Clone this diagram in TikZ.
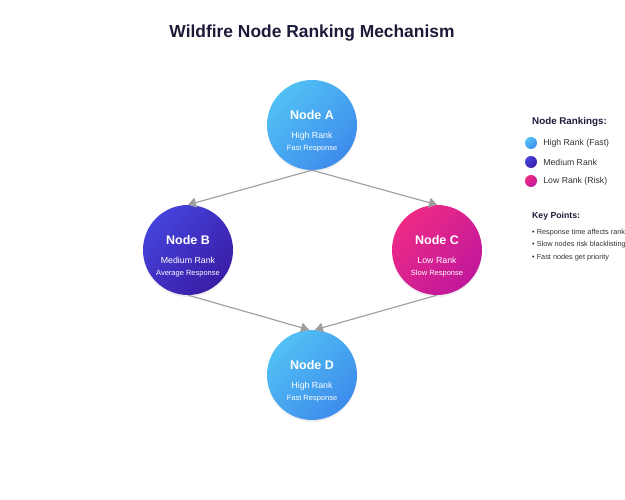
\documentclass[tikz,border=0pt]{standalone}
\usepackage{xcolor}
\usepackage{fontspec}
\setmainfont{Liberation Sans}
\usetikzlibrary{positioning,arrows.meta,shadows}

\definecolor{highA}{HTML}{52C0F5}
\definecolor{highB}{HTML}{3D8CEB}
\definecolor{medA}{HTML}{4543DC}
\definecolor{medB}{HTML}{3A1DA6}
\definecolor{lowA}{HTML}{EE2A85}
\definecolor{lowB}{HTML}{C0189C}
\definecolor{titlecol}{HTML}{1C1C3A}
\definecolor{edgecol}{HTML}{9E9E9E}
\definecolor{txtcol}{HTML}{333333}

\begin{document}
\begin{tikzpicture}[x=1pt, y=1pt,
    rank/.style={circle, minimum size=90pt, inner sep=0pt, text=white, align=center,
        font=\fontsize{8.8}{12}\selectfont,
        drop shadow={shadow xshift=0pt, shadow yshift=-2pt, opacity=0.12}},
    high/.style={rank, top color=highA, bottom color=highB, shading angle=45},
    medium/.style={rank, top color=medA, bottom color=medB, shading angle=45},
    low/.style={rank, top color=lowA, bottom color=lowB, shading angle=45},
    link/.style={-{Triangle[width=10pt,length=8pt]}, draw=edgecol, fill=edgecol, line width=1.1pt},
    key/.style={circle, minimum size=12pt, inner sep=0pt},
    legtext/.style={anchor=west, inner sep=0pt, text=txtcol}]
    \fill[white] (0,0) rectangle (625,500);
    \clip (0,0) rectangle (625,500);

    \node[font=\bfseries\fontsize{17.4}{21}\selectfont, text=titlecol] (title) at (312,467) {Wildfire Node Ranking Mechanism};

    % ranked nodes
    \node[high] (a) at (312,375) {\rule{0pt}{21pt}{\bfseries\fontsize{12.5}{15}\selectfont Node A}\\[7pt]High Rank\\{\fontsize{7.5}{9}\selectfont Fast Response}};
    \node[medium, on grid, below left=125pt and 124pt of a] (b) {\rule{0pt}{21pt}{\bfseries\fontsize{12.5}{15}\selectfont Node B}\\[7pt]Medium Rank\\{\fontsize{7.5}{9}\selectfont Average Response}};
    \node[low, on grid, below right=125pt and 125pt of a] (c) {\rule{0pt}{21pt}{\bfseries\fontsize{12.5}{15}\selectfont Node C}\\[7pt]Low Rank\\{\fontsize{7.5}{9}\selectfont Slow Response}};
    \node[high, on grid, below=250pt of a] (d) {\rule{0pt}{21pt}{\bfseries\fontsize{12.5}{15}\selectfont Node D}\\[7pt]High Rank\\{\fontsize{7.5}{9}\selectfont Fast Response}};

    \draw[link] (a.south) -- (b.north);
    \draw[link] (a.south) -- (c.north);
    \draw[link] (b.south) -- ([xshift=-3pt]d.north);
    \draw[link] (c.south) -- ([xshift=3pt]d.north);

    % legend
    \node[legtext, font=\bfseries\fontsize{9.8}{12}\selectfont, text=titlecol] (ranktitle) at (532,378) {Node Rankings:};
    \node[key, top color=highA, bottom color=highB, shading angle=45] (keyhigh) at (531,357) {};
    \node[key, top color=medA, bottom color=medB, shading angle=45, on grid, below=19pt of keyhigh] (keymed) {};
    \node[key, top color=lowA, bottom color=lowB, shading angle=45, on grid, below=19pt of keymed] (keylow) {};
    \node[legtext, font=\fontsize{8.7}{10}\selectfont, right=6pt of keyhigh] (texthigh) {High Rank (Fast)};
    \node[legtext, font=\fontsize{8.7}{10}\selectfont, right=6pt of keymed] (textmed) {Medium Rank};
    \node[legtext, font=\fontsize{8.7}{10}\selectfont, right=6pt of keylow] (textlow) {Low Rank (Risk)};

    \node[legtext, font=\bfseries\fontsize{8.7}{10}\selectfont, text=titlecol] (keytitle) at (532,284) {Key Points:};
    \node[legtext, font=\fontsize{7.3}{9}\selectfont] (point1) at (532,267.5) {\textbullet\ Response time affects ranking};
    \node[legtext, font=\fontsize{7.3}{9}\selectfont] (point2) at ([yshift=-12.5pt]point1.west) {\textbullet\ Slow nodes risk blacklisting};
    \node[legtext, font=\fontsize{7.3}{9}\selectfont] (point3) at ([yshift=-12.5pt]point2.west) {\textbullet\ Fast nodes get priority};
\end{tikzpicture}
\end{document}
